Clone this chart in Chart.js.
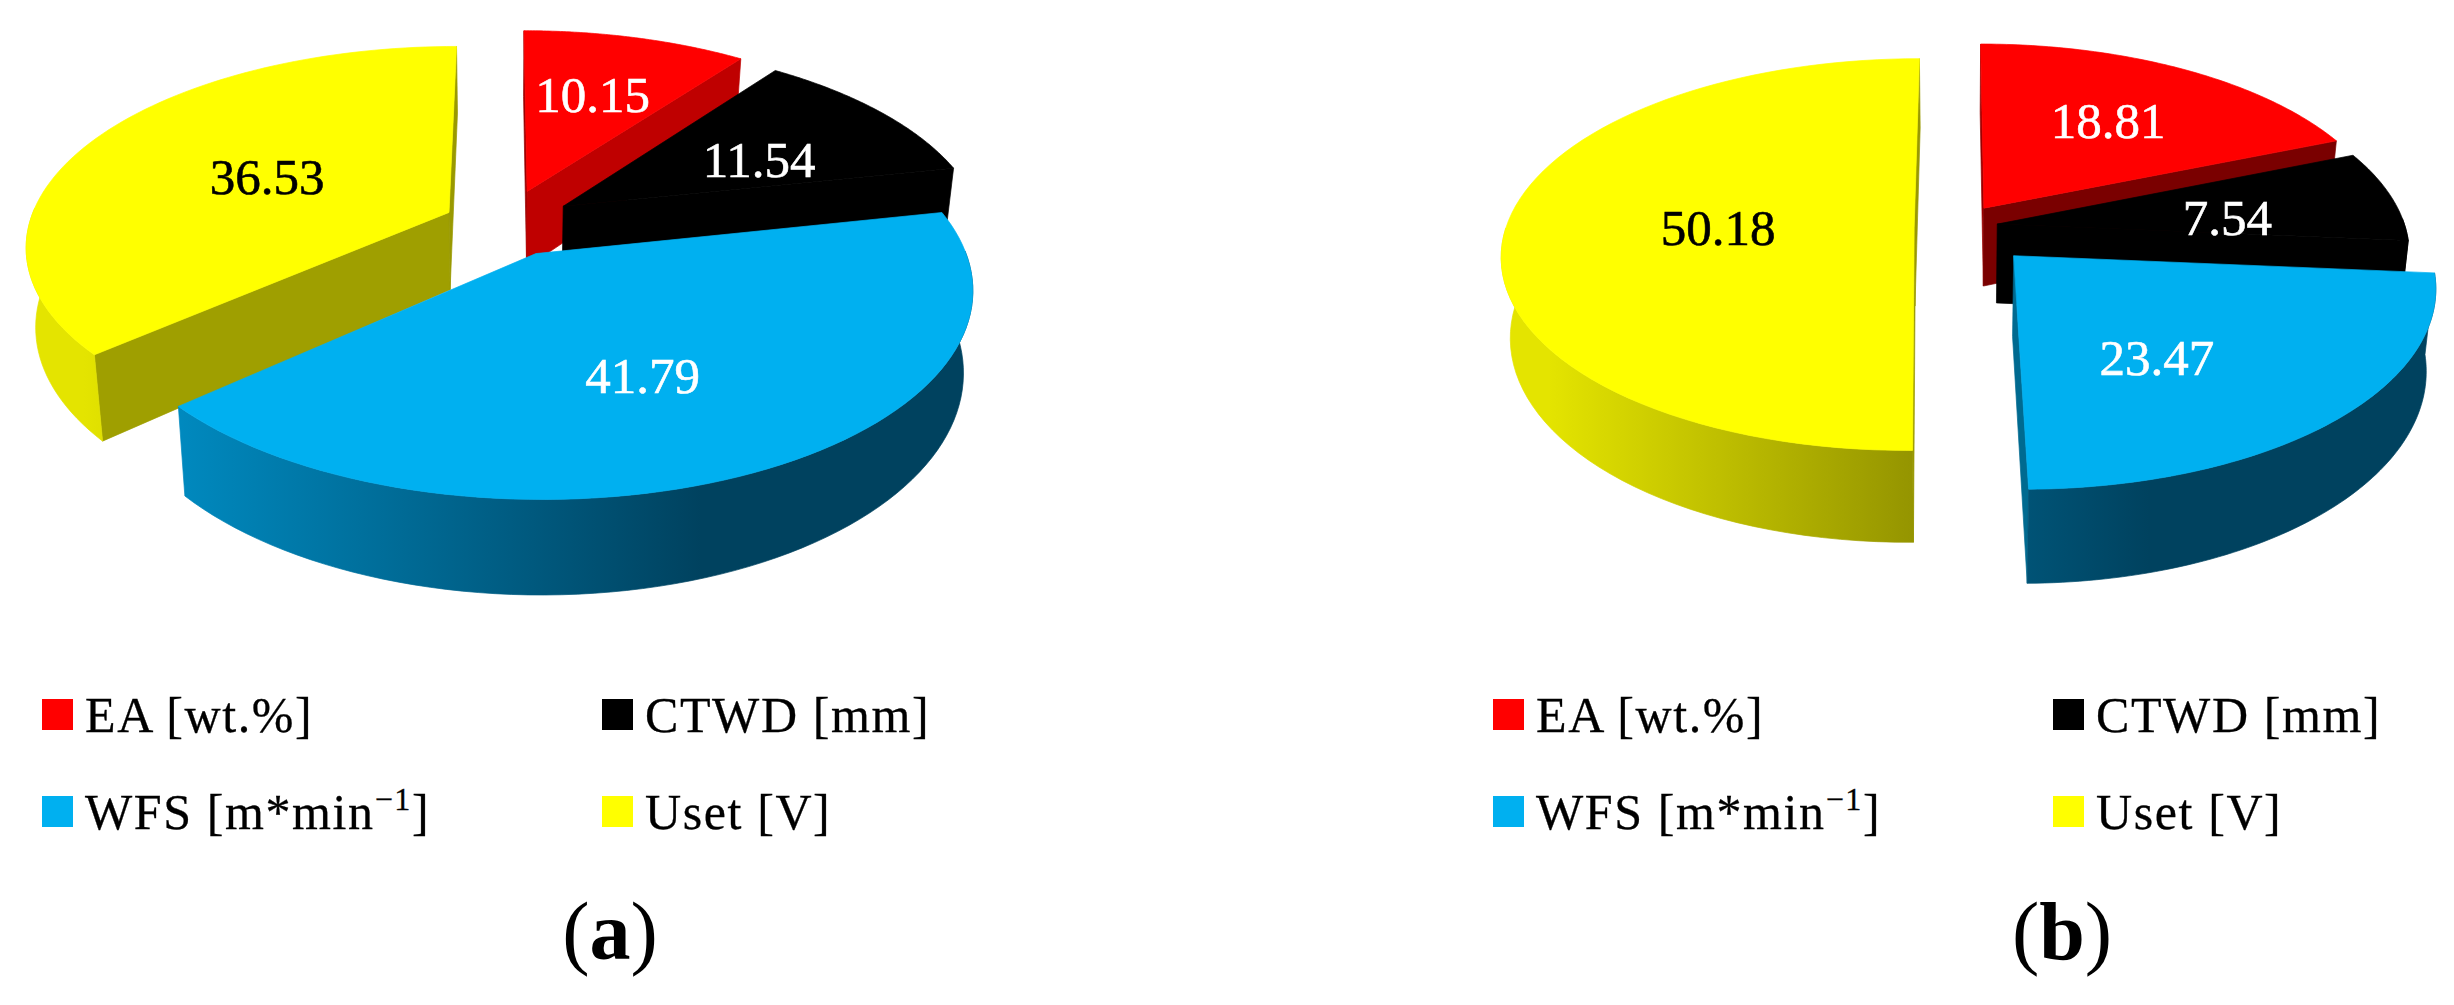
<!DOCTYPE html>
<html>
<head>
<meta charset="utf-8">
<script src="https://cdn.jsdelivr.net/npm/chart.js@4/dist/chart.umd.min.js"></script>
<style>
    html, body { margin: 0; background: #fff; }
    body { position: relative; width: 2454px; height: 1005px; overflow: hidden; font-family: "Liberation Serif", serif; color: #000; }
    canvas { position: absolute; top: 0; }
    .swatch { position: absolute; width: 31px; height: 31px; }
    .item { position: absolute; font-size: 50px; line-height: 50px; letter-spacing: 1.6px; white-space: nowrap; -webkit-text-stroke: 0.3px #000; }
    .item sup { font-size: 32px; line-height: 0; vertical-align: 19px; }
    .caption { position: absolute; top: 888px; width: 200px; text-align: center; font-size: 82px; line-height: 88px; }
</style>
</head>
<body>
<canvas id="pieA" width="1008" height="640" style="left:0"></canvas>
<canvas id="pieB" width="994" height="640" style="left:1460px"></canvas>
<script>
const categories = ['EA [wt.%]', 'CTWD [mm]', 'WFS [m*min\u22121]', 'Uset [V]'];
const valuesA = [10.15, 11.54, 41.79, 36.53];
const valuesB = [18.81, 7.54, 23.47, 50.18];
const sliceColors = ['#ff0000', '#000000', '#00b0f0', '#ffff00'];
const labelColors = ['#ffffff', '#ffffff', '#ffffff', '#000000'];
const wallLight = ['#e00000', '#000000', '#0096d0', '#e4e400'];
const wallDark = ['#800000', '#000000', '#00425f', '#616100'];
const captions = ['(<b>a</b>)', '(<b>b</b>)'];

// flat circle of unit radius -> screen, front of the pie comes closer to the viewer
function project(view, el, u, v, low) {
    const w = 1 - view.persp * v;
    const shrink = low ? 0.98 : 1;
    return {
        x: el.x + view.rx * u / w * shrink,
        y: el.y + (view.ry * v + (low ? view.depth : 0)) / w,
    };
}

function shadeColor(hex, k) {
    const n = parseInt(hex.slice(1), 16);
    return `rgb(${Math.round((n >> 16) * k)}, ${Math.round(((n >> 8) & 255) * k)}, ${Math.round((n & 255) * k)})`;
}

function slicePoints(el, explode) {
    const mid = (el.startAngle + el.endAngle) / 2;
    const tip = { u: Math.cos(mid) * explode, v: Math.sin(mid) * explode };
    const steps = 80;
    const rim = [];
    for (let i = 0; i <= steps; i++) {
        const a = el.startAngle + (el.endAngle - el.startAngle) * i / steps;
        rim.push({ u: tip.u + Math.cos(a), v: tip.v + Math.sin(a), front: Math.sin(a) > -0.03 });
    }
    return { mid, tip, rim };
}

function fillPath(ctx, points, fill) {
    ctx.beginPath();
    points.forEach((p, i) => (i ? ctx.lineTo(p.x, p.y) : ctx.moveTo(p.x, p.y)));
    ctx.closePath();
    ctx.fillStyle = fill;
    ctx.strokeStyle = fill;
    ctx.lineWidth = 0.7;
    ctx.fill();
    ctx.stroke();
}

const pie3d = {
    id: 'pie3d',
    beforeDatasetsDraw(chart, args, view) {
        const ctx = chart.ctx;
        const arcs = chart.getDatasetMeta(0).data;
        const slices = arcs.map((el, i) => ({ el, i, ...slicePoints(el, view.explode[i]) }));
        slices.sort((a, b) => Math.sin(a.mid) - Math.sin(b.mid));

        // walls first, back to front
        slices.forEach(s => {
            const base = sliceColors[s.i];
            const first = s.rim[0];
            const last = s.rim[s.rim.length - 1];
            const faces = [
                { edge: first, normal: -Math.cos(s.el.startAngle) },
                { edge: last, normal: Math.cos(s.el.endAngle) },
            ];
            faces.forEach(face => {
                if (face.normal < -0.02) return;
                const k = face.normal < 0.3 ? 0.6 : 1.237 - 0.82 * face.normal;
                fillPath(ctx, [
                    project(view, s.el, s.tip.u, s.tip.v, false),
                    project(view, s.el, face.edge.u, face.edge.v, false),
                    project(view, s.el, face.edge.u, face.edge.v, true),
                    project(view, s.el, s.tip.u, s.tip.v, true),
                ], shadeColor(base, k));
            });
            const visible = s.rim.filter(p => p.front);
            if (visible.length < 2) return;
            const grad = ctx.createLinearGradient(s.el.x - view.rx, 0, s.el.x + view.rx * 0.47, 0);
            grad.addColorStop(0, wallLight[s.i]);
            grad.addColorStop(1, wallDark[s.i]);
            const upper = visible.map(p => project(view, s.el, p.u, p.v, false));
            const lower = visible.map(p => project(view, s.el, p.u, p.v, true)).reverse();
            fillPath(ctx, upper.concat(lower), grad);
        });

        // top faces and their values
        slices.forEach(s => {
            const outline = [{ u: s.tip.u, v: s.tip.v }].concat(s.rim);
            fillPath(ctx, outline.map(p => project(view, s.el, p.u, p.v, false)), s.el.options.backgroundColor);
        });
        ctx.font = '51px "Liberation Serif"';
        ctx.textAlign = 'center';
        ctx.textBaseline = 'middle';
        ctx.lineWidth = 0.6;
        slices.forEach(s => {
            const r = view.labelRadius[s.i];
            const at = project(view, s.el, s.tip.u + Math.cos(s.mid) * r, s.tip.v + Math.sin(s.mid) * r, false);
            const text = chart.data.datasets[0].data[s.i].toFixed(2);
            const y = at.y + 4 + view.labelDrop[s.i];
            ctx.fillStyle = labelColors[s.i];
            ctx.strokeStyle = labelColors[s.i];
            ctx.fillText(text, at.x, y);
            ctx.strokeText(text, at.x, y);
        });
        return false;
    },
};

function makePie(id, values, bottomPad, view) {
    return new Chart(document.getElementById(id), {
        type: 'pie',
        data: {
            labels: categories,
            datasets: [{ data: values, backgroundColor: sliceColors, borderWidth: 0 }],
        },
        options: {
            responsive: false,
            animation: false,
            layout: { padding: { bottom: bottomPad } },
            plugins: {
                legend: { display: false },
                tooltip: { enabled: false },
                pie3d: view,
            },
        },
        plugins: [pie3d],
    });
}

makePie('pieA', valuesA, 192, {
    rx: 420, ry: 196, persp: 0.16, depth: 78,
    explode: [0.18, 0.17, 0.165, 0.145],
    labelRadius: [0.57, 0.6, 0.5, 0.5],
    labelDrop: [-4, 12, 23, 2],
});
makePie('pieB', valuesB, 186, {
    rx: 408, ry: 192, persp: 0.14, depth: 79,
    explode: [0.12, 0.1, 0.2, 0.105],
    labelRadius: [0.6, 0.58, 0.47, 0.48],
    labelDrop: [0, 10, 29, 0],
});

// legend and captions for both panels
[0, 1451].forEach((dx, panel) => {
    categories.forEach((name, i) => {
        const left = dx + (i % 2 ? 602 : 42);
        const top = i < 2 ? 699 : 796;
        const swatch = document.createElement('div');
        swatch.className = 'swatch';
        swatch.style.cssText = `left:${left}px;top:${top}px;background:${sliceColors[i]}`;
        document.body.appendChild(swatch);
        const item = document.createElement('div');
        item.className = 'item';
        item.style.cssText = `left:${left + 43}px;top:${top - 9}px`;
        item.innerHTML = name.replace('\u22121', '<sup>\u22121</sup>');
        document.body.appendChild(item);
    });
    const cap = document.createElement('div');
    cap.className = 'caption';
    cap.style.left = (panel ? 1962 : 510) + 'px';
    cap.innerHTML = captions[panel];
    document.body.appendChild(cap);
});
</script>
</body>
</html>
